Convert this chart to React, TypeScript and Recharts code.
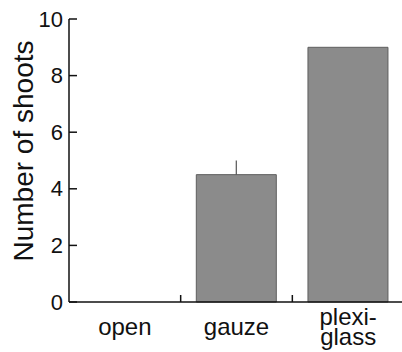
import { BarChart, Bar, XAxis, YAxis, ErrorBar } from 'recharts';

// shoot counts per cover treatment
const treatments = ['open', 'gauze', 'plexi-\nglass'];
const shoots = [0, 4.5, 9];
const shootsUpperErr = [0, 0.5, 0];
const yTicks = [0, 2, 4, 6, 8, 10];

const data = treatments.map((cat, i) => ({
  cat,
  shoots: shoots[i],
  err: [0, shootsUpperErr[i]],
}));

const CHART_W = 406;
const CHART_H = 352;
const Y_AXIS_W = 69;
const MARGIN = { top: 19, right: 2, bottom: 0, left: 0 };
const STEP = (CHART_W - MARGIN.left - MARGIN.right - Y_AXIS_W) / treatments.length;
const FONT = '"Liberation Sans", Arial, sans-serif';

const YTick = (props: any) => {
  const { x, y, payload } = props;
  return (
    <g>
      <line x1={x} x2={x + 8} y1={y} y2={y} stroke="#111" strokeWidth={1.5} />
      <text
        x={x - 6}
        y={y}
        textAnchor="end"
        dominantBaseline="central"
        fontSize={22}
        fontFamily={FONT}
        fill="#111"
      >
        {payload.value}
      </text>
    </g>
  );
};

const XTick = (props: any) => {
  const { x, y, payload, index } = props;
  const lines = String(payload.value).split('\n');
  const first = y + 33 - (lines.length - 1) * 10;
  return (
    <g>
      {index > 0 && (
        <line
          x1={x - STEP / 2}
          x2={x - STEP / 2}
          y1={y}
          y2={y - 7}
          stroke="#111"
          strokeWidth={1.5}
        />
      )}
      <text textAnchor="middle" fontSize={24} fontFamily={FONT} fill="#111">
        {lines.map((l, i) => (
          <tspan key={i} x={x} y={first + i * 20}>
            {l}
          </tspan>
        ))}
      </text>
    </g>
  );
};

export default function App() {
  return (
    <div
      style={{
        position: 'absolute',
        left: 0,
        top: 0,
        width: 402,
        height: 352,
        overflow: 'hidden',
        background: '#fff',
      }}
    >
      <BarChart
        width={CHART_W}
        height={CHART_H}
        data={data}
        margin={MARGIN}
        barCategoryGap="14%"
      >
        <XAxis
          dataKey="cat"
          height={50}
          interval={0}
          tickLine={false}
          tickSize={0}
          tickMargin={0}
          axisLine={{ stroke: '#111', strokeWidth: 1.5 }}
          tick={<XTick />}
        />
        <YAxis
          width={Y_AXIS_W}
          domain={[0, 10]}
          ticks={yTicks}
          interval={0}
          tickLine={false}
          tickSize={0}
          tickMargin={0}
          axisLine={{ stroke: '#111', strokeWidth: 1.5 }}
          tick={<YTick />}
        />
        <Bar
          dataKey="shoots"
          fill="#8b8b8b"
          stroke="#5e5e5e"
          strokeWidth={1}
          isAnimationActive={false}
        >
          <ErrorBar dataKey="err" width={0} stroke="#555" strokeWidth={1.2} />
        </Bar>
        <text
          x={33}
          y={151}
          transform="rotate(-90, 33, 151)"
          textAnchor="middle"
          fontSize={28}
          fontFamily={FONT}
          fill="#111"
        >
          Number of shoots
        </text>
      </BarChart>
    </div>
  );
}
